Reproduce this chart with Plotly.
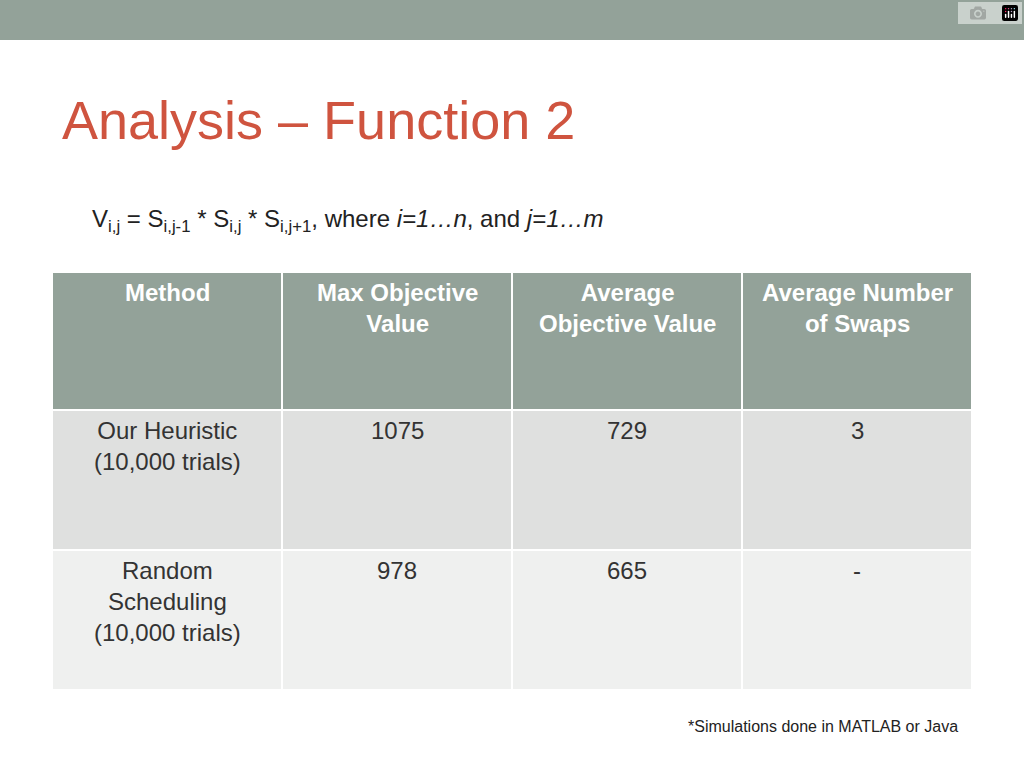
import plotly.graph_objects as go

headers = ["Method", "Max Objective<br>Value", "Average<br>Objective Value", "Average Number<br>of Swaps"]
methods = ["Our Heuristic<br>(10,000 trials)", "Random<br>Scheduling<br>(10,000 trials)"]
max_obj = ["1075", "978"]
avg_obj = ["729", "665"]
swaps = ["3", "-"]

FONT = "Liberation Sans, Arial, sans-serif"
W, H = 1024, 768
x_edges = [52, 282, 512, 742, 972]
y_edges = [272, 410, 550, 690]
row_fill = ["#93A299", "#DFE0DF", "#EFF0EF"]
rows = [headers] + [list(r) for r in zip(methods, max_obj, avg_obj, swaps)]

shapes = [dict(type="rect", x0=0, x1=W, y0=0, y1=40, fillcolor="#93A299", line=dict(width=0), layer="below")]
annotations = []
for ri, row in enumerate(rows):
    for ci, txt in enumerate(row):
        shapes.append(dict(type="rect", x0=x_edges[ci], x1=x_edges[ci+1], y0=y_edges[ri], y1=y_edges[ri+1],
                           fillcolor=row_fill[ri], line=dict(color="white", width=2), layer="below"))
        annotations.append(dict(
            text=f"<b>{txt}</b>" if ri == 0 else txt,
            x=(x_edges[ci]+x_edges[ci+1])/2, y=y_edges[ri]+5, xanchor="center", yanchor="top",
            align="center", showarrow=False,
            font=dict(family=FONT, size=24, color="white" if ri == 0 else "#333333")))

annotations += [
    dict(text="Analysis – Function 2", x=60, y=120, xanchor="left", yanchor="middle", showarrow=False,
         font=dict(family=FONT, size=54, color="#CF543F")),
    dict(text="V<sub>i,j</sub> = S<sub>i,j-1</sub> * S<sub>i,j</sub> * S<sub>i,j+1</sub>, where <i>i=1…n</i>, and <i>j=1…m</i>",
         x=90, y=220, xanchor="left", yanchor="middle", showarrow=False,
         font=dict(family=FONT, size=24, color="#222222")),
    dict(text="*Simulations done in MATLAB or Java", x=960, y=726, xanchor="right", yanchor="middle",
         showarrow=False, font=dict(family=FONT, size=16, color="#222222")),
]

fig = go.Figure()
fig.update_layout(
    width=W, height=H, margin=dict(l=0, r=0, t=0, b=0),
    paper_bgcolor="white", plot_bgcolor="white",
    xaxis=dict(visible=False, range=[0, W], fixedrange=True),
    yaxis=dict(visible=False, range=[H, 0], fixedrange=True),
    shapes=shapes, annotations=annotations, showlegend=False,
)
fig.write_html("out.html")
with open("out.html", encoding="utf-8") as f:
    html = f.read()
html = html.replace("<head>", "<head><style>html,body{margin:0;padding:0;overflow:hidden}</style>", 1)
with open("out.html", "w", encoding="utf-8") as f:
    f.write(html)
